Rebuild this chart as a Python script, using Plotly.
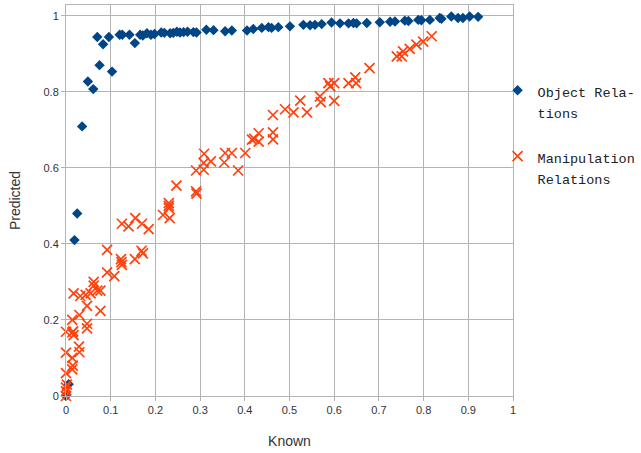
import plotly.graph_objects as go

# ---- data ----
obj_known = [0.000, 0.001, 0.006, 0.019, 0.025, 0.036, 0.049, 0.061, 0.070, 0.075,
             0.083, 0.096, 0.103, 0.120, 0.126, 0.142, 0.154, 0.166, 0.172, 0.181,
             0.190, 0.198, 0.213, 0.220, 0.233, 0.240, 0.248, 0.255, 0.263, 0.272,
             0.285, 0.292, 0.314, 0.330, 0.356, 0.371, 0.405, 0.419, 0.438, 0.453,
             0.460, 0.475, 0.501, 0.531, 0.546, 0.557, 0.572, 0.594, 0.613, 0.632,
             0.643, 0.650, 0.673, 0.702, 0.725, 0.736, 0.758, 0.766, 0.788, 0.795,
             0.814, 0.836, 0.840, 0.862, 0.877, 0.888, 0.903, 0.922]
obj_pred = [0.000, 0.003, 0.031, 0.410, 0.480, 0.709, 0.827, 0.807, 0.944, 0.870,
            0.925, 0.944, 0.853, 0.950, 0.950, 0.950, 0.928, 0.950, 0.948, 0.954,
            0.950, 0.952, 0.956, 0.955, 0.954, 0.955, 0.958, 0.956, 0.957, 0.958,
            0.957, 0.956, 0.963, 0.962, 0.959, 0.961, 0.961, 0.965, 0.968, 0.970,
            0.968, 0.970, 0.972, 0.976, 0.975, 0.976, 0.978, 0.982, 0.980, 0.980,
            0.981, 0.980, 0.981, 0.983, 0.984, 0.985, 0.987, 0.986, 0.989, 0.988,
            0.989, 0.994, 0.992, 0.998, 0.994, 0.994, 0.998, 0.997]

man_known = [0.000, 0.000, 0.000, 0.002, 0.000, 0.000, 0.000, 0.014, 0.015, 0.014,
             0.017, 0.014, 0.016, 0.029, 0.030, 0.014, 0.030, 0.047, 0.047, 0.047,
             0.077, 0.017, 0.032, 0.044, 0.055, 0.062, 0.062, 0.070, 0.077, 0.092,
             0.108, 0.092, 0.123, 0.124, 0.125, 0.154, 0.169, 0.172, 0.125, 0.140,
             0.155, 0.170, 0.185, 0.217, 0.230, 0.230, 0.230, 0.232, 0.247, 0.291,
             0.292, 0.291, 0.308, 0.308, 0.309, 0.324, 0.354, 0.356, 0.371, 0.385,
             0.401, 0.416, 0.421, 0.431, 0.431, 0.463, 0.463, 0.463, 0.490, 0.509,
             0.524, 0.539, 0.568, 0.570, 0.600, 0.587, 0.591, 0.600, 0.632, 0.647,
             0.649, 0.679, 0.740, 0.751, 0.754, 0.769, 0.784, 0.799, 0.818]
man_pred = [0.000, 0.012, 0.022, 0.030, 0.060, 0.114, 0.169, 0.070, 0.080, 0.100,
            0.160, 0.167, 0.170, 0.130, 0.115, 0.200, 0.213, 0.190, 0.178, 0.237,
            0.224, 0.270, 0.263, 0.266, 0.270, 0.290, 0.300, 0.277, 0.277, 0.325,
            0.315, 0.384, 0.360, 0.352, 0.345, 0.360, 0.382, 0.375, 0.453, 0.446,
            0.468, 0.453, 0.439, 0.476, 0.507, 0.500, 0.494, 0.468, 0.553, 0.538,
            0.532, 0.593, 0.595, 0.613, 0.637, 0.617, 0.614, 0.639, 0.639, 0.593,
            0.639, 0.674, 0.676, 0.691, 0.669, 0.693, 0.675, 0.739, 0.754, 0.746,
            0.777, 0.746, 0.788, 0.773, 0.776, 0.823, 0.814, 0.823, 0.823, 0.838,
            0.823, 0.862, 0.893, 0.893, 0.906, 0.913, 0.924, 0.932, 0.946]

x_ticks = [0, 0.1, 0.2, 0.3, 0.4, 0.5, 0.6, 0.7, 0.8, 0.9, 1]
x_tick_text = ["0", "0.1", "0.2", "0.3", "0.4", "0.5", "0.6", "0.7", "0.8", "0.9", "1"]
y_ticks = [0, 0.2, 0.4, 0.6, 0.8, 1]
y_tick_text = ["0", "0.2", "0.4", "0.6", "0.8", "1"]

BLUE = "#004586"
ORANGE = "#ff420e"
GRID = "#b3b3b3"
TXT = "#333333"

def lg(a, b):
    s = "<span style='font-size:13.5px'>%s</span>"
    return (s % a) + "<br>" + (s % b)

fig = go.Figure()
fig.add_trace(go.Scatter(
    x=obj_known, y=obj_pred, mode="markers", name=lg("Object Rela-", "tions"),
    legendgroup="a",
    marker=dict(symbol="diamond", size=8, color=BLUE, line=dict(width=0)),
    cliponaxis=False))
fig.add_trace(go.Scatter(
    x=man_known, y=man_pred, mode="markers", name=lg("Manipulation", "Relations"),
    legendgroup="b",
    marker=dict(symbol="x-thin", size=10, color=ORANGE,
                line=dict(width=1.7, color=ORANGE)),
    cliponaxis=False))

fig.update_layout(
    width=641, height=453,
    margin=dict(l=66, r=128, t=5, b=57, autoexpand=False),
    paper_bgcolor="white", plot_bgcolor="white",
    font=dict(family="Liberation Sans, DejaVu Sans, sans-serif", size=11, color=TXT),
    showlegend=True,
    legend=dict(x=0.9655, xanchor="left", y=0.826, yanchor="top",
                bgcolor="rgba(0,0,0,0)", valign="top",
                traceorder="grouped", tracegroupgap=20, itemwidth=30,
                font=dict(family="Liberation Mono, DejaVu Sans Mono, monospace",
                          size=16.5, color="#222222")),
    xaxis=dict(range=[0, 1], tickvals=x_ticks, ticktext=x_tick_text,
               automargin=False,
               showgrid=True, gridcolor=GRID, gridwidth=1, zeroline=False,
               showline=True, linecolor=GRID, linewidth=1, mirror=True,
               ticks="outside", ticklen=4, tickcolor=GRID,
               tickfont=dict(size=11, color=TXT),
               title=dict(text="Known", font=dict(size=14, color=TXT), standoff=20)),
    yaxis=dict(range=[0, 1.0282], tickvals=y_ticks, ticktext=y_tick_text,
               automargin=False,
               showgrid=True, gridcolor=GRID, gridwidth=1, zeroline=False,
               showline=True, linecolor=GRID, linewidth=1, mirror=True,
               ticks="outside", ticklen=4, tickcolor=GRID,
               tickfont=dict(size=11, color=TXT),
               title=dict(text="Predicted", font=dict(size=14, color=TXT), standoff=19)),
)

fig.write_html("out.html", config={"displayModeBar": False},
               post_script="document.body.style.margin='0px';")
